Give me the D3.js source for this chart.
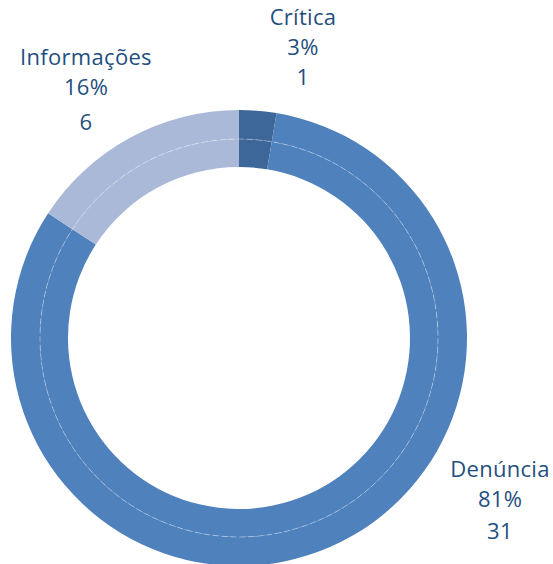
<!DOCTYPE html>
<html><head><meta charset="utf-8">
<script src="https://cdn.jsdelivr.net/npm/d3@7"></script>
<style>html,body{margin:0;padding:0;background:#fff;overflow:hidden}</style>
</head><body>
<svg id="c" width="553" height="564"></svg>
<script>
const categories = ["Crítica", "Denúncia", "Informações"];
const values = [1, 31, 6];
const percentLabels = ["3%", "81%", "16%"];
const colors = ["#3d6699", "#4f81bd", "#aab9d8"];

const svg = d3.select("#c");
const cx = 239, cy = 338;
const g = svg.append("g").attr("transform", `translate(${cx},${cy})`);
const data = categories.map((c, i) => ({ cat: c, value: values[i], pct: percentLabels[i], color: colors[i] }));
const pie = d3.pie().sort(null).value(d => d.value);
const arcs = pie(data);

const rings = [[171, 199], [199, 228]];
rings.forEach(([ri, ro]) => {
  const arc = d3.arc().innerRadius(ri).outerRadius(ro);
  g.append("g").selectAll("path").data(arcs).join("path")
    .attr("d", arc).attr("fill", d => d.data.color);
});
g.append("circle").attr("r", 199).attr("fill", "none")
  .attr("stroke", "#fff").attr("stroke-opacity", 0.35).attr("stroke-width", 1)
  .attr("stroke-dasharray", "6 3");

// label anchors (layout, relative to chart center)
const labelPos = {
  "Crítica": { x: 64, y: -313, gaps: [0, 30, 60] },
  "Informações": { x: -153, y: -273, gaps: [0, 30, 65] },
  "Denúncia": { x: 261, y: 139, gaps: [0, 30, 62] }
};
const lg = g.append("g").attr("font-family", "'Open Sans', sans-serif").attr("font-size", 22)
  .attr("letter-spacing", 0.3).attr("fill", "#1f4f80").attr("text-anchor", "middle");
arcs.forEach(a => {
  const p = labelPos[a.data.cat];
  [a.data.cat, a.data.pct, String(a.data.value)].forEach((t, i) => {
    lg.append("text").attr("x", p.x).attr("y", p.y + p.gaps[i]).text(t);
  });
});
</script>
</body></html>
